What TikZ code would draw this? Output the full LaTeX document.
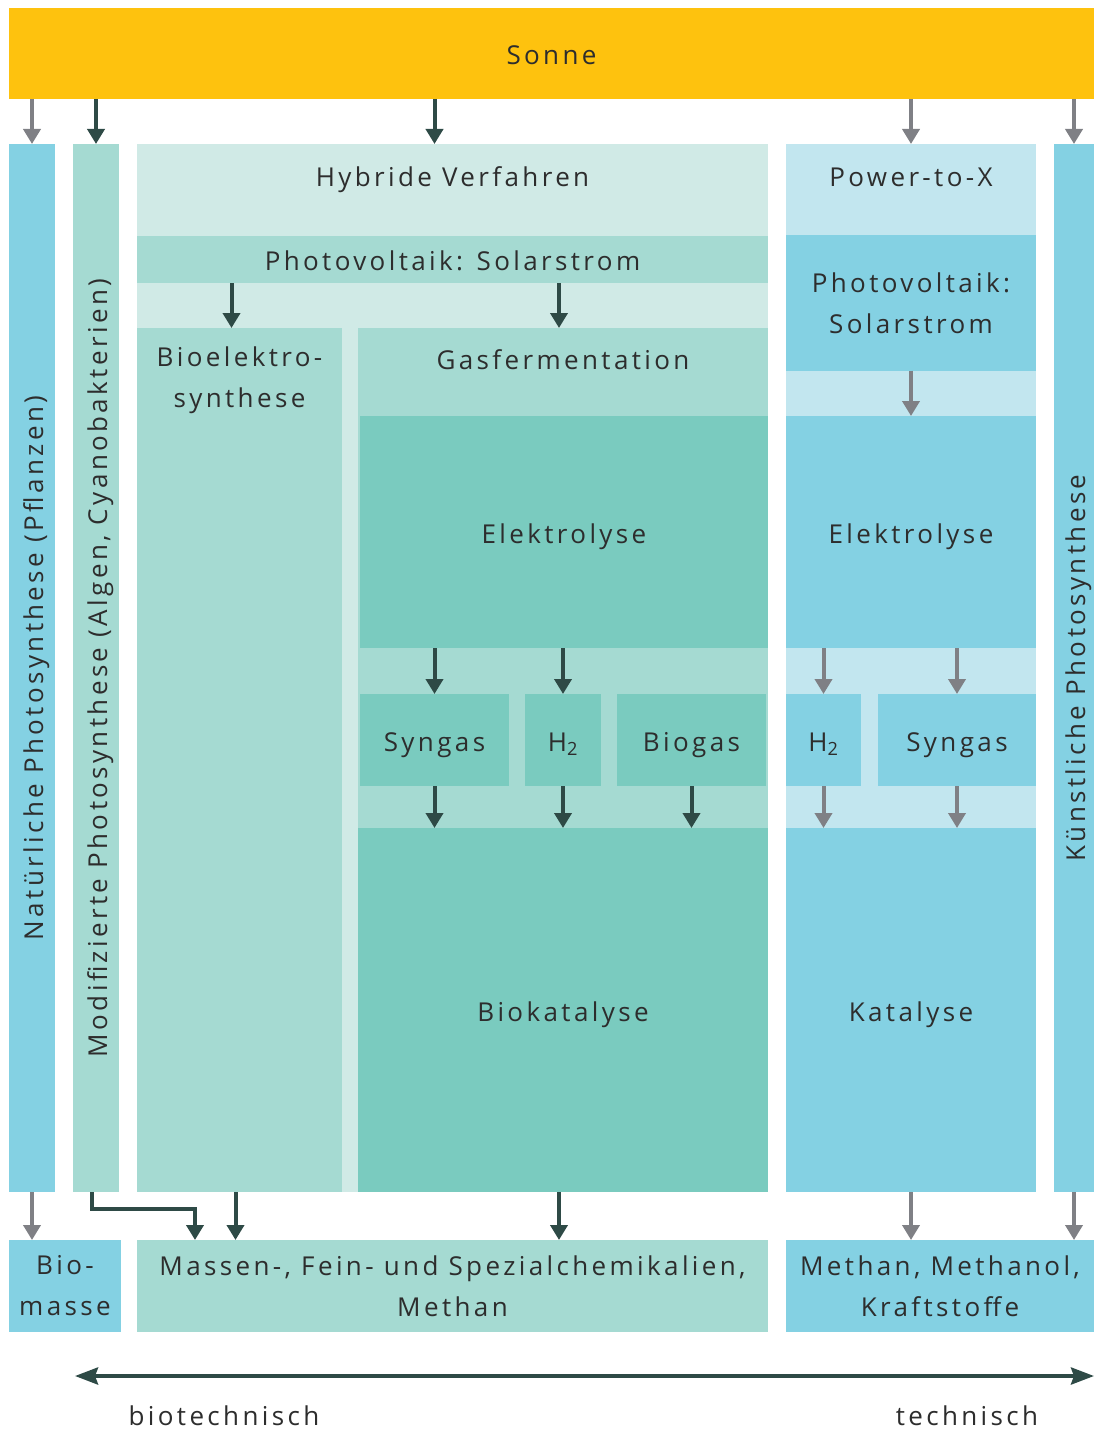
\documentclass[tikz,border=0pt]{standalone}
\usepackage{fontspec}
\setmainfont{Open Sans}[LetterSpace=13]
\usetikzlibrary{arrows.meta,calc}
\definecolor{sunyellow}{RGB}{254,194,14}
\definecolor{skyblue}{RGB}{132,209,227}
\definecolor{paleblue}{RGB}{194,230,239}
\definecolor{tealmid}{RGB}{165,218,210}
\definecolor{tealpale}{RGB}{208,234,230}
\definecolor{tealdeep}{RGB}{122,203,191}
\definecolor{arrowdark}{RGB}{46,74,70}
\definecolor{arrowgray}{RGB}{127,128,133}
\definecolor{textgray}{RGB}{45,45,45}
\newcommand{\lbl}{\fontsize{26}{41}\selectfont}

\begin{document}
\begin{tikzpicture}[
    x=1pt, y=-1pt,
    dims/.style 2 args={minimum width=#1pt, minimum height=#2pt},
    oneline/.style={text height=22pt, text depth=0pt},
    twoline/.style={text height={}, text depth={}},
    blk/.style={rectangle, inner sep=0pt, outer sep=0pt, text=textgray, align=center, font=\lbl, oneline},
    sunbar/.style={blk, fill=sunyellow},
    techbox/.style={blk, fill=skyblue},
    techpale/.style={blk, fill=paleblue},
    biobox/.style={blk, fill=tealmid},
    hybbox/.style={blk, fill=tealpale},
    procbox/.style={blk, fill=tealdeep},
    txt/.style={text=textgray, font=\lbl, align=center, inner sep=0pt, oneline},
    darr/.style={draw=arrowdark, line width=4pt, -{Triangle[width=17pt,length=15pt]}},
    garr/.style={draw=arrowgray, line width=4pt, -{Triangle[width=17pt,length=15pt]}},
    axis/.style={draw=arrowdark, line width=4pt, {Stealth[length=23pt,width=17pt,inset=3pt]}-{Stealth[length=23pt,width=17pt,inset=3pt]}}
]
\useasboundingbox (0,0) rectangle (1094,1431);

% Sonne
\node[sunbar, dims={1085}{91}] (sun) at (551.5,53.5) {Sonne};

% Natural and modified photosynthesis
\node[techbox, dims={46}{1048}] (nat) at (32,668) {};
\node[txt, rotate=90] (natt) at (nat) {Natürliche Photosynthese (Pflanzen)};
\node[biobox, dims={46}{1048}] (mod) at (96,668) {};
\node[txt, rotate=90] (modt) at (mod) {Modifizierte Photosynthese (Algen, Cyanobakterien)};

% Hybride Verfahren
\node[hybbox, dims={631}{1048}] (hyb) at (452.5,668) {};
\node[txt] (hybt) at (452.5,176) {Hybride Verfahren};
\node[biobox, dims={631}{47}] (pvl) at (452.5,259.5) {Photovoltaik: Solarstrom};
\node[biobox, dims={205}{864}] (bioel) at (239.5,760) {};
\node[txt, twoline] (bioelt) at (239.5,380) {Bioelektro-\\synthese};
\node[biobox, dims={410}{864}] (gasf) at (563,760) {};
\node[txt] (gasft) at (563,358) {Gasfermentation};
\node[procbox, dims={408}{232}] (elyl) at (564,532) {Elektrolyse};
\node[procbox, dims={149}{92}] (synl) at (434.5,740) {Syngas};
\node[procbox, dims={76}{92}] (h2l) at (563,740) {H\textsubscript{2}};
\node[procbox, dims={149}{92}] (biogl) at (691.5,740) {Biogas};
\node[procbox, dims={410}{364}] (biok) at (563,1010) {Biokatalyse};

% Power-to-X
\node[techpale, dims={250}{1048}] (ptx) at (911,668) {};
\node[txt] (ptxt) at (911,176) {Power-to-X};
\node[techbox, twoline, dims={250}{135}] (pvr) at (911,303) {Photovoltaik:\\Solarstrom};
\node[techbox, dims={250}{232}] (elyr) at (911,532) {Elektrolyse};
\node[techbox, dims={75}{92}] (h2r) at (823.5,740) {H\textsubscript{2}};
\node[techbox, dims={158}{92}] (synr) at (957,740) {Syngas};
\node[techbox, dims={250}{364}] (kat) at (911,1010) {Katalyse};

% Artificial photosynthesis
\node[techbox, dims={40}{1048}] (kue) at (1074,668) {};
\node[txt, rotate=90] (kuet) at (kue) {Künstliche Photosynthese};

% Products
\node[techbox, twoline, dims={112}{92}] (bio) at (65,1286) {Bio-\\masse};
\node[biobox, twoline, dims={631}{92}] (chem) at (452.5,1286) {Massen-, Fein- und Spezialchemikalien,\\Methan};
\node[techbox, twoline, dims={308}{92}] (meth) at (940,1286) {Methan, Methanol,\\Kraftstoffe};

% Arrows from the sun
\draw[garr] (sun.south -| nat.north) -- (nat.north);
\draw[darr] (sun.south -| mod.north) -- (mod.north);
\draw[darr] (sun.south -| synl.north) -- (hyb.north -| synl.north);
\draw[garr] (sun.south -| ptx.north) -- (ptx.north);
\draw[garr] (sun.south -| kue.north) -- (kue.north);

% Hybrid process chain
\draw[darr] ($(pvl.south -| bioel.north)+(-8,0)$) -- ($(bioel.north)+(-8,0)$);
\draw[darr] ($(pvl.south -| gasf.north)+(-4,0)$) -- ($(gasf.north)+(-4,0)$);
\draw[darr] (elyl.south -| synl.north) -- (synl.north);
\draw[darr] (elyl.south -| h2l.north) -- (h2l.north);
\draw[darr] (synl.south) -- (biok.north -| synl.south);
\draw[darr] (h2l.south) -- (biok.north -| h2l.south);
\draw[darr] (biogl.south) -- (biok.north -| biogl.south);

% Power-to-X chain
\draw[garr] (pvr.south) -- (elyr.north);
\draw[garr] (elyr.south -| h2r.north) -- (h2r.north);
\draw[garr] (elyr.south -| synr.north) -- (synr.north);
\draw[garr] (h2r.south) -- (kat.north -| h2r.south);
\draw[garr] (synr.south) -- (kat.north -| synr.south);

% Arrows to products
\draw[garr] (nat.south) -- (bio.north -| nat.south);
\draw[darr] ($(mod.south)+(-4,0)$) -- ++(0,17) -| ($(chem.north west)+(58,0)$);
\draw[darr] ($(bioel.south)+(-4,0)$) -- ($(bioel.south |- chem.north)+(-4,0)$);
\draw[darr] ($(biok.south)+(-4,0)$) -- ($(biok.south |- chem.north)+(-4,0)$);
\draw[garr] (kat.south) -- (meth.north -| kat.south);
\draw[garr] (kue.south) -- (meth.north -| kue.south);

% Axis
\coordinate (axl) at (75,1376);
\coordinate (axr) at (1094,1376);
\draw[axis] (axl) -- (axr);
\node[txt] (biot) at (224,1414) {biotechnisch};
\node[txt] (tech) at (967,1414) {technisch};

\end{tikzpicture}
\end{document}
